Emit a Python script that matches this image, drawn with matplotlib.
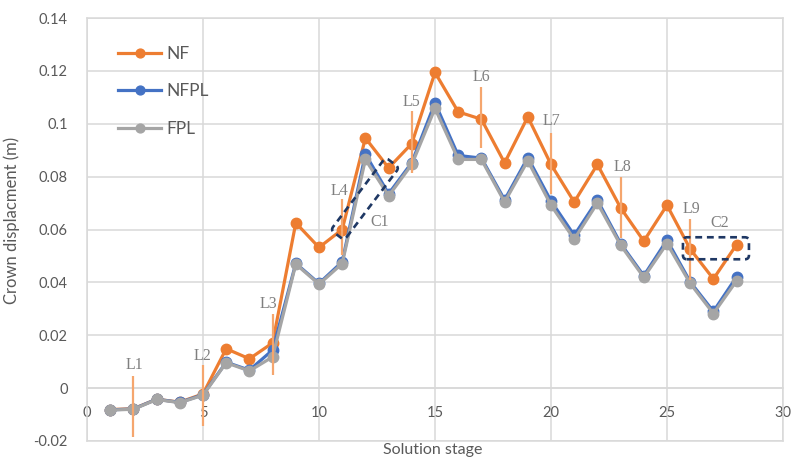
import matplotlib
matplotlib.use("Agg")
import matplotlib.pyplot as plt
import matplotlib.transforms as mtransforms
from matplotlib.patches import FancyBboxPatch
from matplotlib.ticker import FuncFormatter, MultipleLocator

# data
stages = list(range(1, 29))
nf = [-0.0081, -0.0078, -0.0042, -0.0053, -0.0022, 0.0149, 0.0111, 0.0171, 0.0625, 0.0532,
      0.0600, 0.0946, 0.0833, 0.0925, 0.1194, 0.1045, 0.1017, 0.0852, 0.1026, 0.0846,
      0.0704, 0.0846, 0.0682, 0.0556, 0.0692, 0.0526, 0.0413, 0.0543]
nfpl = [-0.0082, -0.0079, -0.0042, -0.0054, -0.0025, 0.0098, 0.0068, 0.0144, 0.0472, 0.0396,
        0.0478, 0.0885, 0.0735, 0.0853, 0.1079, 0.0880, 0.0870, 0.0712, 0.0872, 0.0708,
        0.0578, 0.0711, 0.0547, 0.0425, 0.0560, 0.0402, 0.0290, 0.0421]
fpl = [-0.0083, -0.0080, -0.0043, -0.0055, -0.0027, 0.0096, 0.0065, 0.0118, 0.0469, 0.0393,
       0.0471, 0.0865, 0.0727, 0.0846, 0.1058, 0.0865, 0.0865, 0.0704, 0.0860, 0.0692,
       0.0563, 0.0700, 0.0541, 0.0419, 0.0547, 0.0396, 0.0282, 0.0406]
series_names = ["NF", "NFPL", "FPL"]

# load-step markers (vertical orange ticks) and their labels
step_names = ["L1", "L2", "L3", "L4", "L5", "L6", "L7", "L8", "L9"]
step_x = [2, 5, 8, 11, 14, 17, 20, 23, 26]
step_lo = [-0.0184, -0.0144, 0.0048, 0.0503, 0.0815, 0.0910, 0.0736, 0.0566, 0.0408]
step_hi = [0.0047, 0.0088, 0.0280, 0.0717, 0.1048, 0.1139, 0.0965, 0.0799, 0.0641]
step_lab_x = [2.03, 4.98, 7.84, 10.87, 14.0, 17.0, 20.0, 23.08, 26.05]
step_lab_y = [0.0087, 0.0121, 0.0318, 0.0746, 0.1081, 0.1176, 0.1010, 0.0837, 0.0677]

# dashed callout boxes: centre (data), size in pixels, angle
box_names = ["C1", "C2"]
box_cx = [11.98, 27.11]
box_cy = [0.0716, 0.0529]
box_w = [91, 66]
box_h = [17, 22]
box_ang = [52.9, 0]
box_lab_x = [12.6, 27.25]
box_lab_y = [0.0629, 0.0625]

colors = ["#ED7D31", "#4472C4", "#A5A5A5"]
grid_c = "#D9D9D9"
text_c = "#595959"

fig = plt.figure(figsize=(7.97, 4.57), dpi=100)
ax = fig.add_axes([87 / 797, 16 / 457, 696 / 797, 423 / 457])

for vals, name, c in zip([nf, nfpl, fpl], series_names, colors):
    ax.plot(stages, vals, color=c, lw=2.3, marker="o", ms=7.5, label=name,
            solid_joinstyle="round", zorder=3)

for x, lo, hi in zip(step_x, step_lo, step_hi):
    ax.plot([x, x], [lo, hi], color="#F5A66E", lw=1.6, zorder=5, solid_capstyle="butt")
for name, x, y in zip(step_names, step_lab_x, step_lab_y):
    ax.text(x, y, name, family="Liberation Serif", fontsize=11.5, color="#7F7F7F",
            ha="center", va="center", zorder=6)

for name, cx, cy, w, h, a, lx, ly in zip(box_names, box_cx, box_cy, box_w, box_h,
                                         box_ang, box_lab_x, box_lab_y):
    tr = mtransforms.Affine2D().rotate_deg(a) + mtransforms.ScaledTranslation(cx, cy, ax.transData)
    p = FancyBboxPatch((-w / 2, -h / 2), w, h, boxstyle="round,pad=0,rounding_size=4",
                       fill=False, ec="#1F3864", lw=1.9, linestyle=(0, (2.6, 1.8)),
                       transform=tr, zorder=7, clip_on=False)
    ax.add_patch(p)
    ax.text(lx, ly, name, family="Liberation Serif", fontsize=11.5, color="#7F7F7F",
            ha="center", va="center", zorder=6)

ax.set_xlim(0, 30)
ax.set_ylim(-0.02, 0.14)
ax.xaxis.set_major_locator(MultipleLocator(5))
ax.yaxis.set_major_locator(MultipleLocator(0.02))
ax.yaxis.set_major_formatter(FuncFormatter(lambda v, p: f"{round(v, 2):g}"))
ax.grid(True, color=grid_c, lw=1.1, zorder=0)
ax.set_axisbelow(True)

for s in ["top", "right", "left"]:
    ax.spines[s].set_color(grid_c)
    ax.spines[s].set_linewidth(1.1)
ax.spines["bottom"].set_position(("data", 0))
ax.spines["bottom"].set_color(grid_c)
ax.spines["bottom"].set_linewidth(1.1)
ax.axhline(ax.get_ylim()[0], color=grid_c, lw=1.1, clip_on=False, zorder=0)

ax.tick_params(axis="both", length=0, labelsize=10.5, labelcolor=text_c)
ax.tick_params(axis="x", pad=13)
ax.tick_params(axis="y", pad=14)
for t in ax.get_xticklabels() + ax.get_yticklabels():
    t.set_family("Lato")

ax.set_xlabel("Solution stage", family="Lato", fontsize=11.5, color=text_c, va="top")
ax.xaxis.set_label_coords(0.497, -0.004)
ax.set_ylabel("Crown displacment (m)", family="Lato", fontsize=12, color=text_c)
ax.yaxis.set_label_coords(-0.096, 0.522)

leg = ax.legend(loc="upper left", bbox_to_anchor=(0.032, 0.955), frameon=False,
                prop={"family": "Lato", "size": 12.5}, labelcolor=text_c,
                handlelength=2.5, handletextpad=0.3, labelspacing=1.25, borderpad=0,
                markerscale=0.85)

fig.savefig("out.png", dpi=100)
